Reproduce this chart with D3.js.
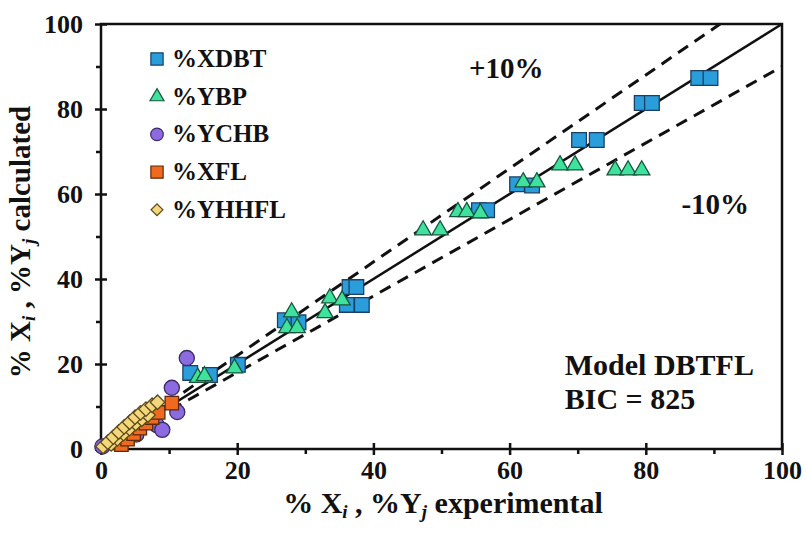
<!DOCTYPE html>
<html>
<meta charset="utf-8">
<head>
    <title>Model DBTFL parity plot</title>
</head>
<style>
    body { margin: 0; background: #fff; }
    text { font-family: "Liberation Serif", "Times New Roman", serif; font-weight: bold; fill: #111; }
</style>
<script src="https://d3js.org/d3.v7.min.js"></script>
<body>
<div id="chart"></div>
<script>

// Data: experimental vs calculated (%)
var xdbtExp  = [87.7, 89.5, 79.4, 80.9, 70.2, 72.8, 61.1, 63.3, 55.5, 56.7, 36.5, 37.5, 36.1, 38.3, 27.0, 29.0, 20.1, 13.1, 16.0]
var xdbtCalc = [87.3, 87.3, 81.4, 81.4, 72.7, 72.7, 62.3, 62.0, 56.2, 56.2, 38.1, 38.1, 33.9, 33.9, 30.3, 29.8, 19.8, 17.9, 17.4]

var ybpExp  = [14.2, 15.2, 19.6, 27.3, 28.8, 28.0, 32.9, 33.6, 35.4, 47.3, 49.8, 52.4, 53.7, 55.7, 62.0, 64.0, 67.4, 69.6, 75.5, 77.4, 79.4]
var ybpCalc = [16.8, 17.2, 19.0, 28.5, 28.5, 32.2, 32.0, 35.5, 35.0, 51.5, 51.5, 55.8, 55.8, 55.5, 62.8, 62.8, 66.8, 66.8, 65.6, 65.6, 65.6]

var ychbExp  = [0.2, 5.2, 8.2, 9.0, 11.2, 10.4, 12.6]
var ychbCalc = [0.6, 3.4, 5.6, 4.5, 8.7, 14.4, 21.4]

var xflExp  = [3.0, 3.9, 4.8, 5.7, 6.6, 7.5, 8.4, 10.4]
var xflCalc = [1.0, 2.3, 3.6, 4.9, 6.1, 7.4, 8.6, 10.8]

var yhhflExp  = [1.5, 2.4, 3.3, 4.2, 5.1, 6.0, 6.9, 0.3, 1.0, 1.8, 2.6, 3.4, 4.2, 5.0, 5.8, 6.6, 7.5, 8.3]
var yhhflCalc = [1.2, 2.4, 3.6, 4.8, 6.0, 7.0, 8.0, 0.6, 1.6, 2.8, 4.0, 5.2, 6.3, 7.5, 8.5, 9.4, 10.3, 11.0]

var seriesNames = ["%XDBT", "%YBP", "%YCHB", "%XFL", "%YHHFL"]
var majorTicks = [0, 20, 40, 60, 80, 100]
var minorTicks = [10, 30, 50, 70, 90]

var margin = {top: 24, right: 24, bottom: 86, left: 101},
    width = 806 - margin.left - margin.right,
    height = 535 - margin.top - margin.bottom;

var svg = d3.select("#chart")
  .append("svg")
  .attr("width", 806)
  .attr("height", 535)
  .append("g")
  .attr("transform", "translate(" + margin.left + "," + margin.top + ")");

var x = d3.scaleLinear().domain([0, 100]).range([0, width])
var y = d3.scaleLinear().domain([0, 100]).range([height, 0])

// reference lines: 1:1 and +/-10 %
var line = d3.line().x(function(d) { return x(d[0]); }).y(function(d) { return y(d[1]); })
svg.append("path").attr("d", line([[0, 0], [100, 100]]))
  .style("fill", "none").style("stroke", "#111").style("stroke-width", 2.5)
svg.append("path").attr("d", line([[0, 0], [100 / 1.1, 100]]))
  .style("fill", "none").style("stroke", "#111").style("stroke-width", 3).style("stroke-dasharray", "12,8")
svg.append("path").attr("d", line([[0, 0], [100, 90]]))
  .style("fill", "none").style("stroke", "#111").style("stroke-width", 3).style("stroke-dasharray", "12,8")

// axes
svg.append("g").attr("transform", "translate(0," + height + ")")
  .call(d3.axisBottom(x).tickValues(majorTicks).tickSize(6).tickPadding(6))
svg.append("g").attr("transform", "translate(0," + height + ")")
  .call(d3.axisBottom(x).tickValues(majorTicks).tickSize(-6).tickFormat(""))
svg.append("g").attr("transform", "translate(0," + height + ")")
  .call(d3.axisBottom(x).tickValues(minorTicks).tickSize(5).tickFormat(""))

svg.append("g")
  .call(d3.axisLeft(y).tickValues(majorTicks).tickSize(6).tickPadding(12))
svg.append("g")
  .call(d3.axisLeft(y).tickValues(majorTicks).tickSize(-6).tickFormat(""))
svg.append("g")
  .call(d3.axisLeft(y).tickValues(minorTicks).tickSize(5).tickFormat(""))

svg.selectAll(".domain").remove()
svg.selectAll(".tick line").style("stroke", "#111").style("stroke-width", 2.5)
svg.selectAll(".tick text").style("font-size", "26px").style("font-family", "Liberation Serif").style("font-weight", "bold").style("fill", "#111")

// frame
svg.append("rect").attr("x", 0).attr("y", 0).attr("width", width).attr("height", height)
  .style("fill", "none").style("stroke", "#111").style("stroke-width", 2.5)

// markers (drawn in legend order, later series on top)
var styles = [
  {exp: xdbtExp, calc: xdbtCalc, type: d3.symbolSquare, size: 215, lsize: 150, fill: "#2a9ddb", stroke: "#1c3f66", rot: 0},
  {exp: ybpExp, calc: ybpCalc, type: d3.symbolTriangle, size: 115, lsize: 85, fill: "#3ee29c", stroke: "#17553c", rot: 0},
  {exp: ychbExp, calc: ychbCalc, type: d3.symbolCircle, size: 180, lsize: 125, fill: "#8c6be0", stroke: "#3a2a66", rot: 0},
  {exp: xflExp, calc: xflCalc, type: d3.symbolSquare, size: 180, lsize: 150, fill: "#ef6a1e", stroke: "#5a2a0e", rot: 0},
  {exp: yhhflExp, calc: yhhflCalc, type: d3.symbolSquare, size: 105, lsize: 70, fill: "#f4d77a", stroke: "#5c4a1c", rot: 45}
]

styles.forEach(function(s) {
  svg.append("g").selectAll("path")
    .data(d3.range(s.exp.length))
    .enter().append("path")
    .attr("d", d3.symbol().type(s.type).size(s.size)())
    .attr("transform", function(i) { return "translate(" + x(s.exp[i]) + "," + y(s.calc[i]) + ") rotate(" + s.rot + ")"; })
    .style("fill", s.fill)
    .style("stroke", s.stroke)
    .style("stroke-width", 1.3)
})

// legend
var legend = svg.append("g").attr("transform", "translate(56,35)")
styles.forEach(function(s, i) {
  var gy = i * 37.7
  legend.append("path")
    .attr("d", d3.symbol().type(s.type).size(s.lsize)())
    .attr("transform", "translate(0," + gy + ") rotate(" + s.rot + ")")
    .style("fill", s.fill).style("stroke", s.stroke).style("stroke-width", 1.2)
  legend.append("text")
    .attr("x", 15).attr("y", gy + 8)
    .style("font-size", "25px")
    .text(seriesNames[i])
})

// annotations
svg.append("text").attr("x", x(59.5)).attr("y", y(87.3)).style("font-size", "29px").style("text-anchor", "middle").text("+10%")
svg.append("text").attr("x", x(90.2)).attr("y", y(55.3)).style("font-size", "29px").style("text-anchor", "middle").text("-10%")
svg.append("text").attr("x", x(68.1)).attr("y", y(17.4)).style("font-size", "30px").text("Model DBTFL")
svg.append("text").attr("x", x(68.1)).attr("y", y(9.4)).style("font-size", "30px").text("BIC = 825")

// axis titles
function title(t, word) {
  t.append("tspan").text("% X")
  t.append("tspan").attr("baseline-shift", "-25%").style("font-size", "19px").style("font-style", "italic").text("i")
  t.append("tspan").text(" , %Y")
  t.append("tspan").attr("baseline-shift", "-25%").style("font-size", "19px").style("font-style", "italic").text("j")
  t.append("tspan").text(" " + word)
}
var xt = svg.append("text").attr("x", 342).attr("y", height + 64).style("font-size", "30px").style("text-anchor", "middle")
title(xt, "experimental")

var yt = svg.append("text").attr("transform", "translate(-71,218) rotate(-90)").style("font-size", "29px").style("text-anchor", "middle")
title(yt, "calculated")

</script>
</body>
</html>
